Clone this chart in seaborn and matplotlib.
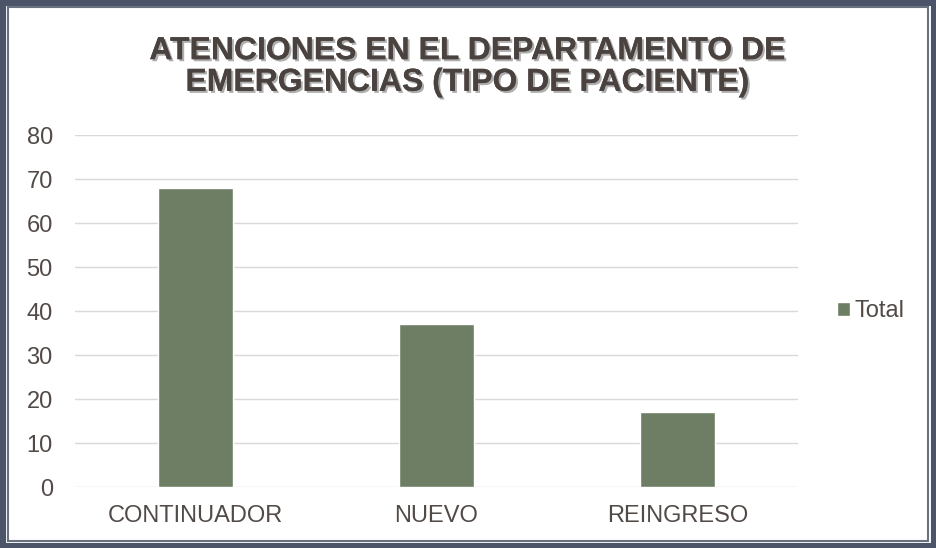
import matplotlib
matplotlib.use("Agg")
import matplotlib.pyplot as plt
import matplotlib.patheffects as pe
from matplotlib.patches import Rectangle
import seaborn as sns
import pandas as pd

categories = ["CONTINUADOR", "NUEVO", "REINGRESO"]
values = [68, 37, 17]
series_name = "Total"
yticks = [0, 10, 20, 30, 40, 50, 60, 70, 80]
title = "ATENCIONES EN EL DEPARTAMENTO DE\nEMERGENCIAS (TIPO DE PACIENTE)"

df = pd.DataFrame({"cat": categories, "val": values, "series": series_name})

sns.set_style("white")
plt.rcParams["font.family"] = ["Liberation Sans", "DejaVu Sans"]

fig = plt.figure(figsize=(9.36, 5.48), dpi=100)
W, H = 936, 548
ax = fig.add_axes([75 / W, 1 - 487 / H, (798 - 75) / W, (487 - 135) / H])

bar_color = "#6e7e65"
text_color = "#524a47"
sns.barplot(data=df, x="cat", y="val", hue="series", palette=[bar_color],
            width=0.31, ax=ax, saturation=1, legend=True)

ax.set_ylim(0, 80)
ax.set_yticks(yticks)
ax.set_xlim(-0.5, 2.5)
ax.yaxis.grid(True, color="#d9d9d9", linewidth=1)
ax.set_axisbelow(True)
for s in ax.spines.values():
    s.set_visible(False)
ax.set_xlabel("")
ax.set_ylabel("")
ax.tick_params(axis="y", labelsize=17, labelcolor=text_color, length=0, pad=16)
ax.tick_params(axis="x", labelsize=17, labelcolor=text_color, length=0, pad=13)

leg = ax.legend(loc="center left", bbox_to_anchor=(1.024, 0.5), frameon=False,
                fontsize=17, handlelength=0.55, handleheight=0.55, handletextpad=0.2)
for t in leg.get_texts():
    t.set_color(text_color)

fig.text(468 / W, 1 - 67 / H, title, ha="center", va="center", fontsize=23,
         fontweight="bold", color="#4a423f", linespacing=1.07,
         path_effects=[pe.withSimplePatchShadow(offset=(1.5, -1.5), shadow_rgbFace="#9a9a9a", alpha=0.8), pe.Normal()])

# frame
fig.patches.append(Rectangle((0, 0), 1, 1, transform=fig.transFigure, fill=False,
                             edgecolor="#4b5468", linewidth=8, zorder=10))
fig.patches.append(Rectangle((8 / W, 7 / H), 1 - 16 / W, 1 - 14 / H, transform=fig.transFigure,
                             fill=False, edgecolor="#6a7282", linewidth=1.5, zorder=10))

fig.savefig("out.png", dpi=100)
